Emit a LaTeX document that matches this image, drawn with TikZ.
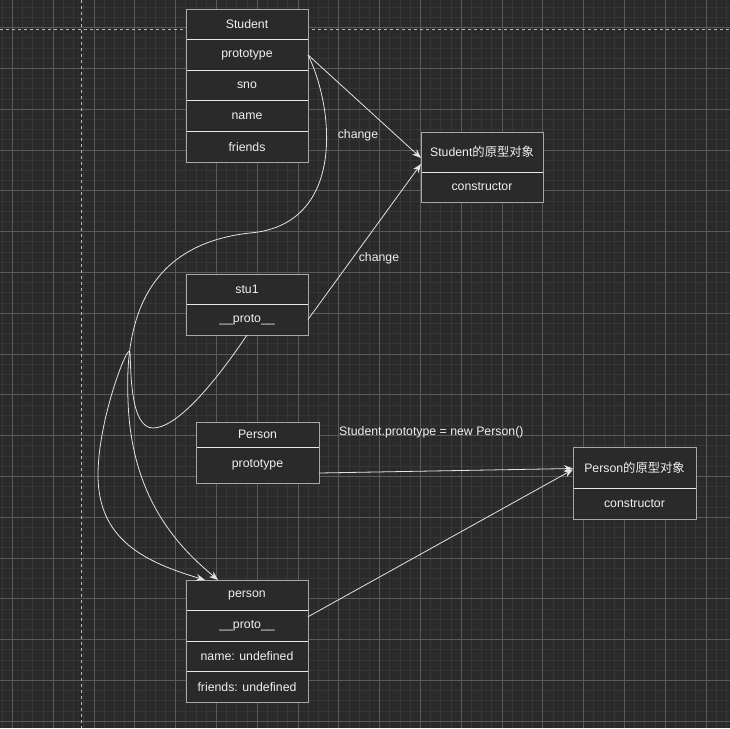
\documentclass[tikz,border=0pt]{standalone}
\usepackage{fontspec}
\setmainfont{Liberation Sans}
\newfontfamily\cjk{Noto Sans CJK SC}
\usetikzlibrary{positioning,arrows.meta}

\definecolor{bgcol}{HTML}{2A2A2A}
\definecolor{minorcol}{HTML}{363636}
\definecolor{majorcol}{HTML}{5A5A5A}
\definecolor{edgecol}{HTML}{B8B8B8}
\definecolor{divcol}{HTML}{E8E8E8}
\definecolor{framecol}{HTML}{A8A8A8}
\definecolor{txtcol}{HTML}{F0F0F0}
\definecolor{linkcol}{HTML}{E4E4E4}

\tikzset{
    minorgrid/.style={minorcol, line width=0.8pt},
    majorgrid/.style={majorcol, line width=0.8pt},
    pageedge/.style={edgecol, line width=1pt, dash pattern=on 3pt off 3pt},
    field/.style={draw=divcol, fill=bgcol, text=txtcol, line width=0.8pt,
        minimum width=122pt, inner sep=0pt, outer sep=0pt,
        font=\fontsize{12.3}{14}\selectfont},
    frame/.style={draw=framecol, line width=1pt},
    link/.style={linkcol, line width=0.8pt, -{Stealth[length=9pt,width=7pt,inset=3pt]}},
    lbl/.style={text=txtcol, inner sep=0pt, font=\fontsize{12.3}{14}\selectfont},
}

\begin{document}
\begin{tikzpicture}[x=1pt, y=-1pt]
    % Background and grid
    \fill[bgcol] (0,0) rectangle (730,728);
    \useasboundingbox (0,0) rectangle (730,728);
    \foreach \i in {0,...,71}
        \draw[minorgrid] ({2.1+10.2*\i},0) -- ({2.1+10.2*\i},728);
    \foreach \i in {0,...,70}
        \draw[minorgrid] (0,{7.1+10.2*\i}) -- (730,{7.1+10.2*\i});
    \foreach \i in {0,...,17} {
        \draw[majorgrid] ({12.3+40.8*\i},0) -- ({12.3+40.8*\i},728);
        \draw[majorgrid] (0,{27.5+40.8*\i}) -- (730,{27.5+40.8*\i});
    }

    % Page edges
    \draw[pageedge] (0,29) -- (730,29);
    \draw[pageedge] (81,0) -- (81,728);

    % Define the corners of the boxes
    \coordinate (S) at (186,9);
    \coordinate (SO) at (421,132);
    \coordinate (U) at (186,274);
    \coordinate (P) at (196,422);
    \coordinate (PN) at (186,580);
    \coordinate (PO) at (573,447);

    % Draw the Student box
    \node[field, minimum height=30.6pt, anchor=north west] (stitle) at (S) {Student};
    \node[field, minimum height=30.6pt, below=0pt of stitle] (sproto) {prototype};
    \node[field, minimum height=30.6pt, below=0pt of sproto] (ssno) {sno};
    \node[field, minimum height=30.6pt, below=0pt of ssno] (sname) {name};
    \node[field, minimum height=30.6pt, below=0pt of sname] (sfriends) {friends};
    \draw[frame] (stitle.north west) rectangle (sfriends.south east);

    % Draw the Student prototype object
    \node[field, minimum height=40pt, anchor=north west] (sobjtitle) at (SO) {Student{\cjk 的原型对象}};
    \node[field, minimum height=30pt, below=0pt of sobjtitle] (sobjctor) {constructor};
    \draw[frame] (sobjtitle.north west) rectangle (sobjctor.south east);

    % Draw the stu1 box
    \node[field, minimum height=30pt, anchor=north west] (utitle) at (U) {stu1};
    \node[field, minimum height=31pt, below=0pt of utitle] (uproto) {\_\_proto\_\_};
    \draw[frame] (utitle.north west) rectangle (uproto.south east);

    % Draw the Person box
    \node[field, minimum width=123pt, minimum height=25pt, anchor=north west] (ptitle) at (P) {Person};
    \node[field, minimum width=123pt, minimum height=36pt, below=0pt of ptitle] (pproto) {prototype};
    \draw[frame] (ptitle.north west) rectangle (pproto.south east);

    % Draw the person box
    \node[field, minimum height=30.5pt, anchor=north west] (pname) at (PN) {person};
    \node[field, minimum height=30.5pt, below=0pt of pname] (pnproto) {\_\_proto\_\_};
    \node[field, minimum height=30.5pt, below=0pt of pnproto] (pnname) {name: undefined};
    \node[field, minimum height=30.5pt, below=0pt of pnname] (pnfriends) {friends: undefined};
    \draw[frame] (pname.north west) rectangle (pnfriends.south east);

    % Draw the Person prototype object
    \node[field, minimum width=123pt, minimum height=41pt, anchor=north west] (pobjtitle) at (PO) {Person{\cjk 的原型对象}};
    \node[field, minimum width=123pt, minimum height=31pt, below=0pt of pobjtitle] (pobjctor) {constructor};
    \draw[frame] (pobjtitle.north west) rectangle (pobjctor.south east);

    % Draw the links
    \draw[link] (sproto.east) -- ([yshift=-6pt]sobjtitle.west);
    \draw[link] (uproto.east) -- ([yshift=-12pt]sobjtitle.west);
    \draw[link] ([yshift=-8pt]pproto.east) -- ([yshift=-1pt]pobjtitle.west);
    \draw[link] ([yshift=9pt]pnproto.east) -- ([yshift=-2pt]pobjtitle.west);

    \draw[link] (sproto.east) .. controls (335,110) and (345,225) .. (250,233)
        .. controls (140,245) and (125,330) .. (128,400)
        .. controls (131,500) and (180,548) .. ([xshift=-29pt]pname.north);
    \draw[link] (uproto.south) .. controls (210,390) and (175,428) .. (153,428)
        .. controls (130,428) and (131,370) .. (130,352)
        .. controls (128,342) and (98,420) .. (98,475)
        .. controls (98,540) and (145,562) .. ([xshift=-42pt]pname.north);

    % Place the labels
    \node[lbl] (chg1) at (358,135) {change};
    \node[lbl] (chg2) at (379,258) {change};
    \node[lbl, anchor=west] (assign) at (339,432) {Student.prototype = new Person()};

\end{tikzpicture}
\end{document}
